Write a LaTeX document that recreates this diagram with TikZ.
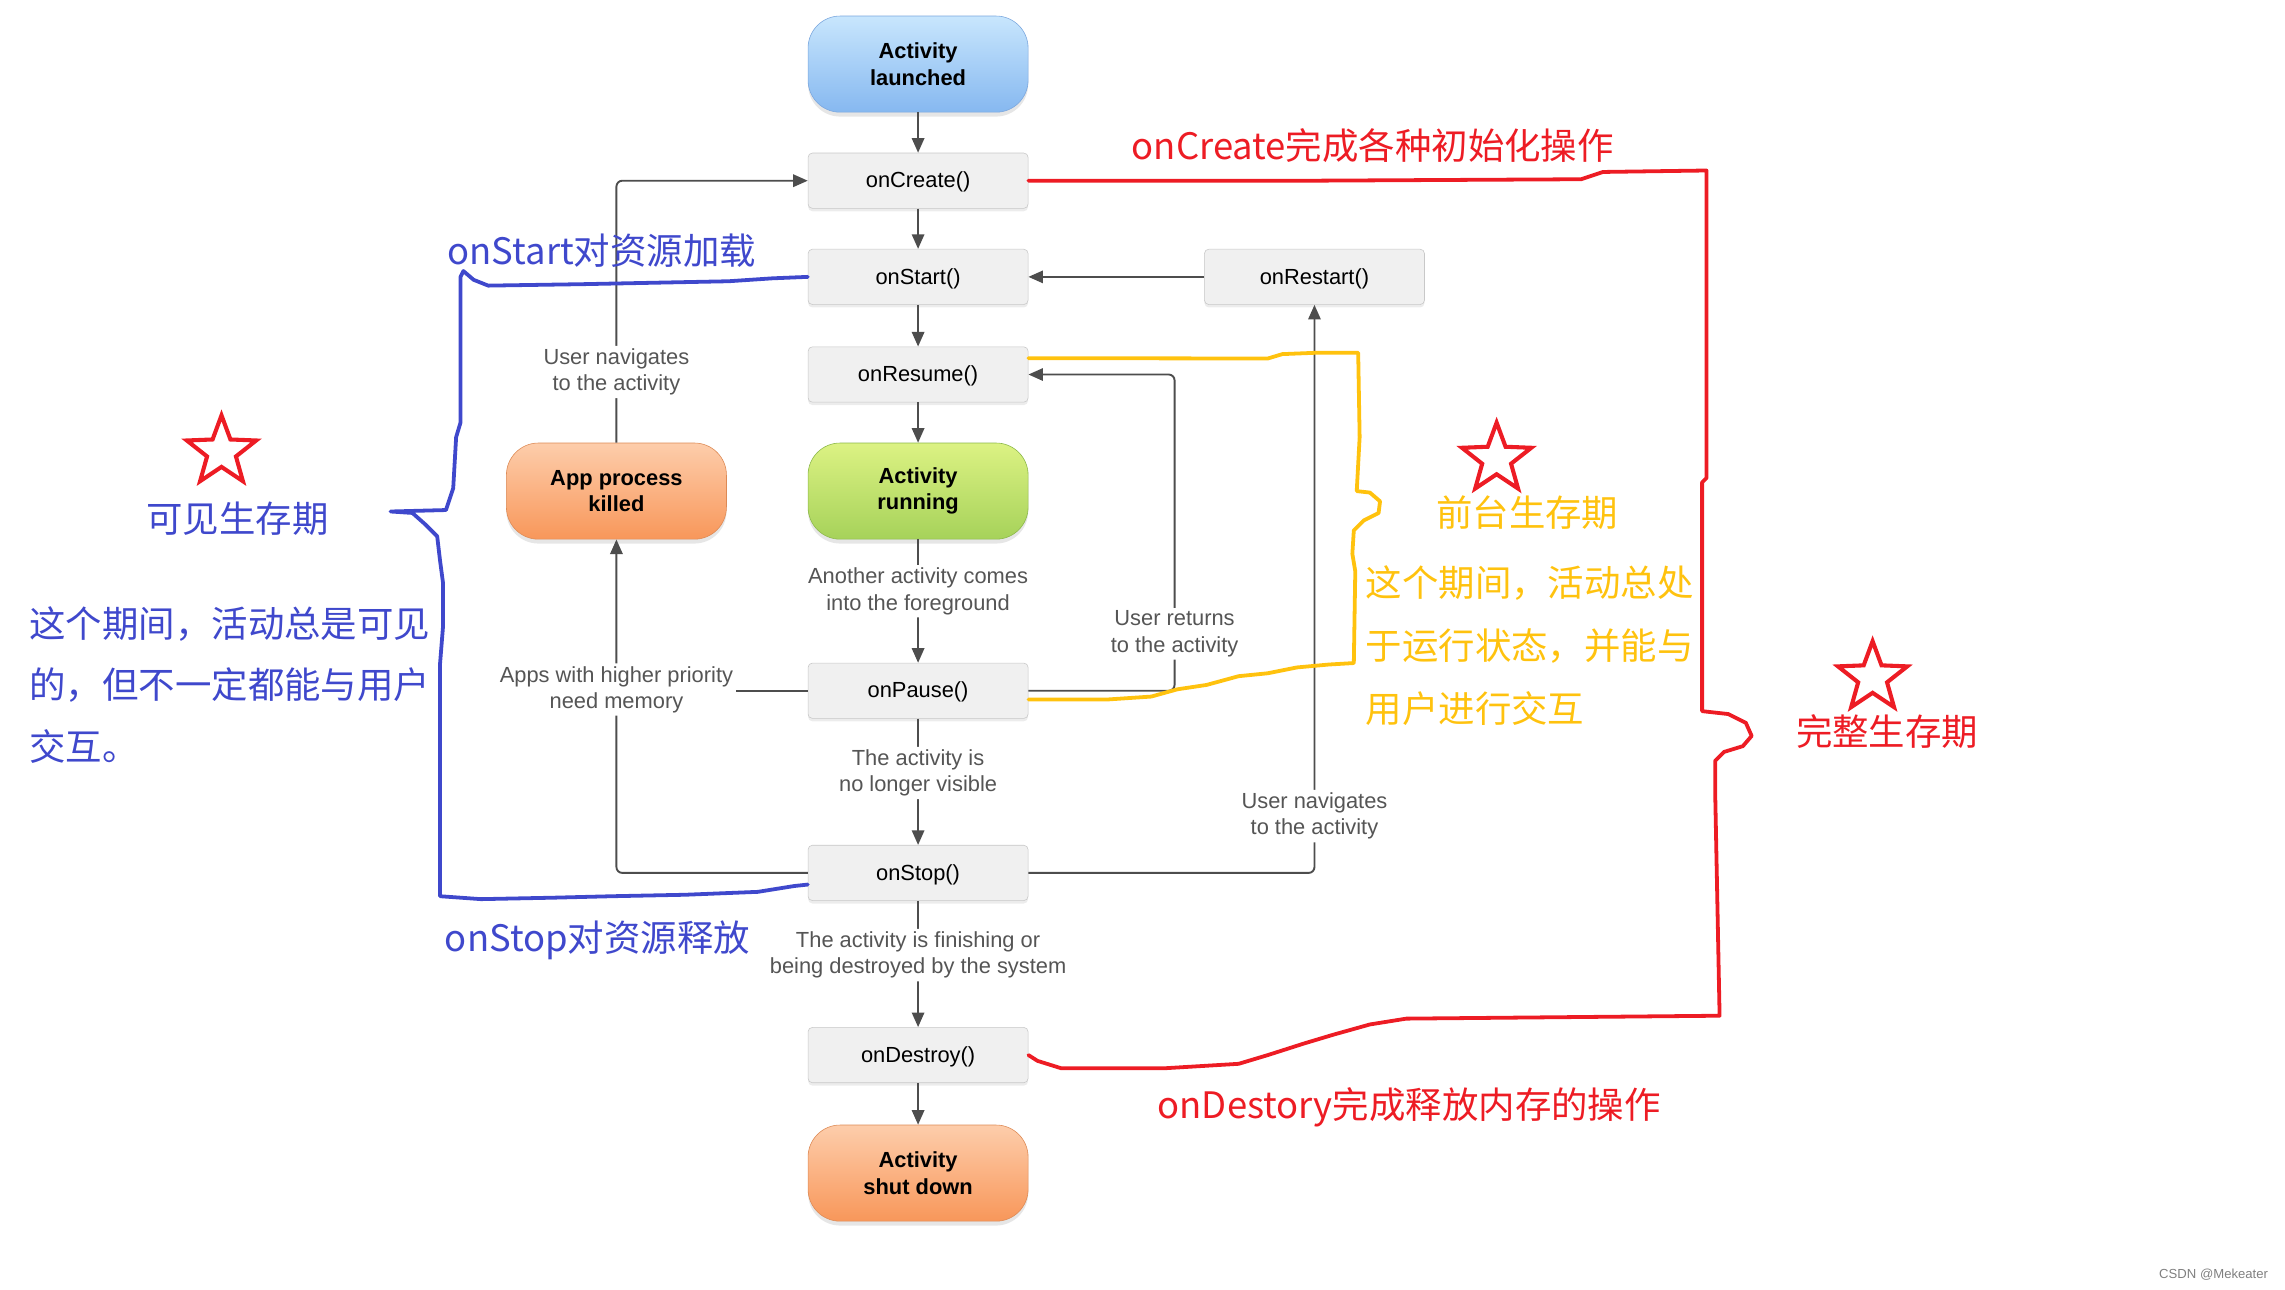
\documentclass[tikz,border=0pt]{standalone}
\usepackage{fontspec}
\setmainfont{Liberation Sans}
\newfontfamily\cjk{Noto Sans CJK SC}
\usetikzlibrary{arrows.meta,shapes.geometric,shadows}

\definecolor{boxfill}{HTML}{F0F0F0}
\definecolor{boxline}{HTML}{C8C8C8}
\definecolor{flowgray}{HTML}{4D4D4D}
\definecolor{lblgray}{HTML}{555555}
\definecolor{annblue}{HTML}{3F48CC}
\definecolor{annred}{HTML}{ED1C24}
\definecolor{annyel}{HTML}{FFC20E}
\definecolor{bluetop}{HTML}{C8E6FD}
\definecolor{bluebot}{HTML}{86B8F0}
\definecolor{blueline}{HTML}{7BA7DE}
\definecolor{greentop}{HTML}{DCF283}
\definecolor{greenbot}{HTML}{A6D25A}
\definecolor{greenline}{HTML}{8CB84A}
\definecolor{orangetop}{HTML}{FDCDAB}
\definecolor{orangebot}{HTML}{F8975A}
\definecolor{orangeline}{HTML}{DD8A55}

\tikzset{
  lifebox/.style={draw=boxline, fill=boxfill, rounded corners=3pt,
    minimum width=151pt, minimum height=38pt, text depth=1pt,
    font=\fontsize{15}{18}\selectfont,
    drop shadow={shadow xshift=0pt, shadow yshift=-2pt, opacity=.15}},
  statepill/.style={draw=#1line, top color=#1top, bottom color=#1bot,
    rounded corners=22pt, minimum width=151pt, minimum height=66pt, align=center,
    font=\fontsize{15}{18}\selectfont\bfseries,
    drop shadow={shadow xshift=0pt, shadow yshift=-3pt, opacity=.2}},
  flow/.style={draw=flowgray, line width=1.3pt, rounded corners=4pt,
    -{Triangle[length=10pt,width=8.5pt]}},
  plainline/.style={draw=flowgray, line width=1.3pt},
  lbl/.style={fill=white, text=lblgray, align=center, inner sep=2pt,
    font=\fontsize{15}{18}\selectfont},
  note/.style={font=\cjk\fontsize{25}{30}\selectfont, inner sep=0pt},
  pen/.style={line width=2.6pt, line join=round, line cap=round},
  redstar/.style={star, star points=5, star point ratio=2.4, draw=annred,
    line width=2.8pt, minimum size=50pt, inner sep=0pt}
}

\begin{document}
\begin{tikzpicture}[x=1pt,y=-1pt]
\path[use as bounding box] (0,0) rectangle (1568,885);

% lifecycle states
\node[statepill=blue] (launched) at (630,44) {Activity\\launched};
\node[lifebox] (onCreate) at (630,124) {onCreate()};
\node[lifebox] (onStart) at (630,190) {onStart()};
\node[lifebox] (onRestart) at (902,190) {onRestart()};
\node[lifebox] (onResume) at (630,257) {onResume()};
\node[statepill=green] (running) at (630,337) {Activity\\running};
\node[statepill=orange] (killed) at (423,337) {App process\\killed};
\node[lifebox] (onPause) at (630,474) {onPause()};
\node[lifebox] (onStop) at (630,599) {onStop()};
\node[lifebox] (onDestroy) at (630,724) {onDestroy()};
\node[statepill=orange] (shutdown) at (630,805) {Activity\\shut down};
\coordinate (backx) at (806,0);

% transitions
\draw[flow] (launched) -- (onCreate);
\draw[flow] (onCreate) -- (onStart);
\draw[flow] (onStart) -- (onResume);
\draw[flow] (onResume) -- (running);
\draw[flow] (running) -- node[lbl,pos=.42]{Another activity comes\\into the foreground} (onPause);
\draw[flow] (onPause) -- node[lbl,pos=.43]{The activity is\\no longer visible} (onStop);
\draw[flow] (onStop) -- node[lbl,pos=.43]{The activity is finishing or\\being destroyed by the system} (onDestroy);
\draw[flow] (onDestroy) -- (shutdown);
\draw[flow] (onRestart) -- (onStart);
\draw[flow] (onPause.east) -- (onPause.east -| backx) -- node[lbl,pos=.18]{User returns\\to the activity} (onResume.east -| backx) -- (onResume.east);
\draw[flow] (onStop.east) -- (onStop.east -| onRestart.south) -- node[lbl,pos=.1]{User navigates\\to the activity} (onRestart.south);
\draw[plainline] (onPause.west) -- (onPause.west -| killed.south);
\draw[flow] (onStop.west) -- (onStop.west -| killed.south) -- node[lbl,pos=.55]{Apps with higher priority\\need memory} (killed.south);
\draw[flow] (killed.north) -- node[lbl,pos=.27]{User navigates\\to the activity} (killed.north |- onCreate.west) -- (onCreate.west);

% hand-drawn brackets
\draw[pen, annred] (onCreate.east) -- (900,124) -- (1085,123) -- (1100,118) -- (1171,117) -- (1171,328) -- (1168,331) -- (1168,488) -- (1186,490) -- (1198,496) -- (1202,505) -- (1196,512) -- (1183,516) -- (1177,522) -- (1177,545) -- (1180,697) -- (965,699) -- (940,703) -- (915,710) -- (895,716) -- (870,724) -- (850,730) -- (800,733) -- (728,733) -- (712,728) -- (onDestroy.east);
\draw[pen, annyel] ([yshift=-8pt]onResume.north east) -- (870,246) -- (880,243) -- (905,242) -- (932,242) -- (933,300) -- (931,337) -- (940,338) -- (947,344) -- (946,352) -- (936,357) -- (929,364) -- (928,380) -- (930,392) -- (929,455) -- (912,456) -- (890,458) -- (870,462) -- (850,464) -- (828,470) -- (808,473) -- (790,478) -- (760,480) -- ([yshift=-6pt]onPause.east);
\draw[pen, annblue] (onStart.west) -- (530,191) -- (500,193) -- (400,195) -- (335,196) -- (325,192) -- (318,186) -- (316,190) -- (316,290) -- (313,300) -- (311,335) -- (306,350) -- (268,351) -- (283,352) -- (292,360) -- (300,368) -- (302,385) -- (304,400) -- (304,430) -- (302,455) -- (302,615) -- (330,617) -- (380,616) -- (420,615) -- (470,614) -- (520,612) -- (545,608) -- ([yshift=-8pt]onStop.west);

% notes
\node[note, text=annred] (createnote) at (942,100) {onCreate完成各种初始化操作};
\node[note, text=annblue] (startnote) at (413,172) {onStart对资源加载};
\node[note, text=annblue] (stopnote) at (410,645) {onStop对资源释放};
\node[note, text=annred] (destroynote) at (967,760) {onDestory完成释放内存的操作};
\node[redstar] (visstar) at (152,310) {};
\node[note, text=annblue] (vistitle) at (163,356) {可见生存期};
\node[note, text=annblue, anchor=west, align=left, font=\cjk\fontsize{25}{42}\selectfont] (vistext) at (20,470) {这个期间，活动总是可见\\的，但不一定都能与用户\\交互。};
\node[redstar] (fgstar) at (1027,315) {};
\node[note, text=annyel] (fgtitle) at (1048,352) {前台生存期};
\node[note, text=annyel, anchor=west, align=left, font=\cjk\fontsize{25}{43}\selectfont] (fgtext) at (937,443) {这个期间，活动总处\\于运行状态，并能与\\用户进行交互};
\node[redstar] (fullstar) at (1285,465) {};
\node[note, text=annred] (fulltitle) at (1295,502) {完整生存期};
\node[text=gray, font=\fontsize{9}{10}\selectfont, inner sep=0pt] (mark) at (1519,875) {CSDN @Mekeater};
\end{tikzpicture}
\end{document}
